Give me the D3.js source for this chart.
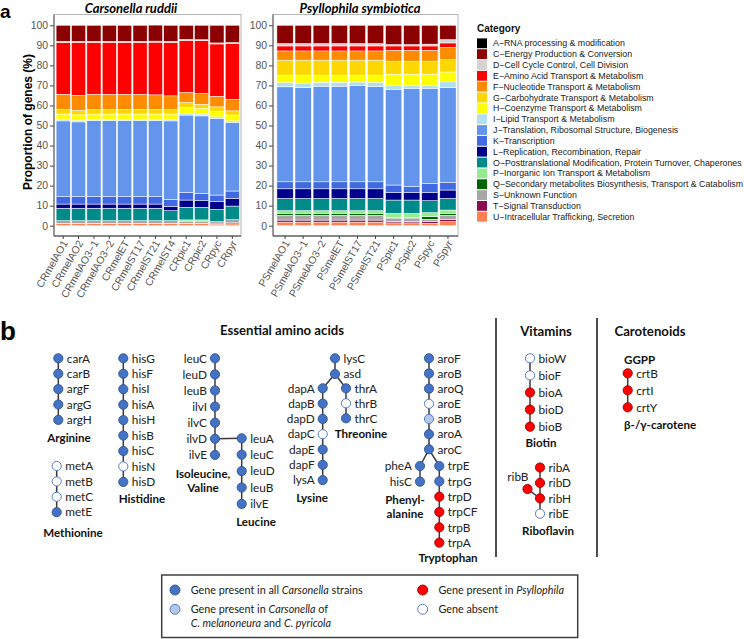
<!DOCTYPE html>
<html><head><meta charset="utf-8">
<script src="https://cdn.jsdelivr.net/npm/d3@7"></script>
<style>body{margin:0;background:#fff} svg{display:block}</style>
</head><body><svg id="c" width="744" height="639"></svg>
<script>
// ---------- DATA (panel a) ----------
const categoryKeys = ["A","C","D","E","F","G","H","I","J","K","L","O","P","Q","S","T","U"];
const categoryLabels = [
 "A−RNA processing & modification","C−Energy Production & Conversion","D−Cell Cycle Control, Cell Division",
 "E−Amino Acid Transport & Metabolism","F−Nucleotide Transport & Metabolism","G−Carbohydrate Transport & Metabolism",
 "H−Coenzyme Transport & Metabolism","I−Lipid Transport & Metabolism","J−Translation, Ribosomal Structure, Biogenesis",
 "K−Transcription","L−Replication, Recombination, Repair","O−Posttranslational Modification, Protein Turnover, Chaperones",
 "P−Inorganic Ion Transport & Metabolism","Q−Secondary metabolites Biosynthesis, Transport & Catabolism",
 "S−Unknown Function","T−Signal Transduction","U−Intracellular Trafficking, Secretion"];
const categoryColors = ["#000000","#8B0000","#D3D3D3","#FF0000","#FF8C00","#FFD700","#FFFF00","#B2DFEE",
 "#6495ED","#4169E1","#00008B","#008B8B","#90EE90","#006400","#A6A6A6","#8B0A50","#FF7F50"];
const crStrains = ["CRmelAO1","CRmelAO2","CRmelAO3−1","CRmelAO3−2","CRmelET","CRmelST17","CRmelST21","CRmelST4","CRpic1","CRpic2","CRpyc","CRpyr"];
const psStrains = ["PSmelAO1","PSmelAO3−1","PSmelAO3−2","PSmelET","PSmelST17","PSmelST21","PSpic1","PSpic2","PSpyc","PSpyr"];
// values per strain, in category order A,C,D,E,F,G,H,I,J,K,L,O,P,Q,S,T,U (%)
const crValues = [
 [0,8.0,0.5,25.9,7.6,2.3,2.7,0.7,37.8,3.7,2.1,6.2,0,0,1.3,0,1.2],
 [0,8.0,0.5,26.4,7.5,2.3,2.8,0.7,37.3,3.7,2.1,6.2,0,0,1.3,0,1.2],
 [0,8.0,0.5,25.9,7.6,2.3,2.7,0.6,37.9,3.7,2.1,6.2,0,0,1.3,0,1.2],
 [0,8.0,0.5,25.9,7.6,2.3,2.7,0.6,37.9,3.7,2.1,6.2,0,0,1.3,0,1.2],
 [0,8.0,0.5,25.9,7.6,2.3,2.7,0.6,37.9,3.7,2.1,6.2,0,0,1.3,0,1.2],
 [0,8.0,0.5,25.9,7.6,2.3,2.7,0.6,37.9,3.7,2.1,6.2,0,0,1.3,0,1.2],
 [0,8.0,0.5,26.3,7.3,2.3,2.7,0.6,37.9,3.7,2.1,6.2,0,0,1.3,0,1.2],
 [0,8.0,0.5,26.7,6.8,2.3,2.7,0.7,39.2,3.6,2.0,5.0,0,0,1.3,0,1.2],
 [0,7.0,0.5,26.0,5.0,2.5,3.0,0.8,38.7,3.7,3.6,6.3,0.6,0,1.1,0,1.2],
 [0,7.2,0.5,26.3,5.4,2.1,2.8,0.9,38.7,3.6,3.3,6.3,0.6,0,1.1,0,1.2],
 [0,8.8,0.5,26.1,5.3,2.2,2.8,0.8,38.2,3.3,3.8,6.2,0,0,0.7,0.5,0.8],
 [0,8.6,0.5,27.8,5.8,2.1,2.9,0.8,34.2,3.7,3.8,6.8,0,0,1.6,0.5,0.9]
];
const psValues = [
 [0,9.1,1.2,2.5,4.6,7.5,3.7,2.1,47.4,3.5,4.8,6.1,1.3,1.0,2.4,1.0,1.8],
 [0,9.1,1.2,2.5,4.6,7.5,3.9,2.2,47.1,3.5,4.8,6.1,1.3,1.0,2.4,1.0,1.8],
 [0,9.1,1.2,2.5,4.6,7.5,3.5,2.0,47.7,3.5,4.8,6.1,1.3,1.0,2.4,1.0,1.8],
 [0,9.1,1.2,2.5,4.6,7.5,3.5,2.0,47.7,3.5,4.8,6.1,1.3,1.0,2.4,1.0,1.8],
 [0,9.1,1.2,2.5,4.6,7.5,3.4,1.6,48.2,3.5,4.8,6.1,1.3,1.0,2.4,1.0,1.8],
 [0,9.1,1.2,2.5,4.6,7.5,3.6,2.0,47.6,3.5,4.8,6.1,1.3,1.0,2.4,1.0,1.8],
 [0,9.6,0.7,2.2,5.4,6.5,5.5,2.0,47.8,3.8,3.7,6.6,2.0,0.4,1.8,0.6,1.4],
 [0,9.6,0.7,2.2,5.4,6.5,5.5,1.5,49.1,3.0,3.7,6.6,2.0,0.4,1.8,0.6,1.4],
 [0,9.4,0.9,2.2,5.4,6.5,5.5,1.5,47.5,4.6,4.0,6.0,2.0,1.3,1.2,0.8,1.2],
 [0,7.1,1.7,2.3,6.0,6.2,4.9,2.8,47.3,3.9,4.2,5.8,1.6,1.0,2.0,1.2,2.0]
];
const yTicks = [0,10,20,30,40,50,60,70,80,90,100];

// ---------- DATA (panel b) ----------
// status: C = present in all Carsonella, M = Carsonella of C. melanoneura & C. pyricola, P = Psyllophila, N = absent
const argGenes = ["carA","carB","argF","argG","argH"];            const argStatus = ["C","C","C","C","C"];
const metGenes = ["metA","metB","metC","metE"];                   const metStatus = ["N","N","N","C"];
const hisGenes = ["hisG","hisF","hisI","hisA","hisH","hisB","hisC","hisN","hisD"]; const hisStatus = ["C","C","C","C","C","C","C","N","C"];
const ilvGenes = ["leuC","leuD","leuB","ilvI","ilvC","ilvD","ilvE"]; const ilvStatus = ["C","C","C","C","C","C","C"];
const leuGenes = ["leuA","leuC","leuD","leuB","ilvE"];            const leuStatus = ["C","C","C","C","C"];
const lysTrunkGenes = ["lysC","asd"];                             const lysTrunkStatus = ["C","C"];
const dapGenes = ["dapA","dapB","dapD","dapC","dapE","dapF","lysA"]; const dapStatus = ["C","C","C","N","C","C","C"];
const thrGenes = ["thrA","thrB","thrC"];                          const thrStatus = ["C","N","C"];
const aroGenes = ["aroF","aroB","aroQ","aroE","aroB","aroA","aroC"]; const aroStatus = ["C","C","C","N","M","C","C"];
const pheGenes = ["pheA","hisC"];                                 const pheStatus = ["C","C"];
const trpGenes = ["trpE","trpG","trpD","trpCF","trpB","trpA"];    const trpStatus = ["C","C","P","P","P","P"];
const bioGenes = ["bioW","bioF","bioA","bioD","bioB"];            const bioStatus = ["N","N","P","P","P"];
const ribGenes = ["ribA","ribD","ribH","ribE"];                   const ribStatus = ["P","P","P","N"];
const ribBranchGenes = ["ribB"];                                  const ribBranchStatus = ["P"];
const crtGenes = ["crtB","crtI","crtY"];                          const crtStatus = ["P","P","P"];

// ---------- RENDER ----------
const svg = d3.select("#c");
const FA = "'Liberation Sans', Arial, sans-serif";
const FB = "Lato, 'Open Sans', sans-serif";

svg.append("text").attr("x",0).attr("y",17.5).attr("font-family",FA).attr("font-weight","bold").attr("font-size",19).text("a");

const y = d3.scaleLinear().domain([0,100]).range([225.7, 25.3]);

function drawPanel(strains, values, o) {
  const rows = strains.map((s,i)=>{const r={strain:s}; categoryKeys.forEach((k,j)=>r[k]=values[i][j]); return r;});
  const series = d3.stack().keys(categoryKeys.slice().reverse())(rows);
  const x = d3.scaleBand().domain(strains).range(o.xRange).paddingInner(o.padIn).paddingOuter(o.padOut);
  const g = svg.append("g");
  g.append("rect").attr("x",o.frame[0]).attr("y",14.5).attr("width",o.frame[1]-o.frame[0]).attr("height",236-14.5)
    .attr("fill","none").attr("stroke","#b5b5b5").attr("stroke-width",1);
  series.forEach(s=>{
    const col = categoryColors[categoryKeys.indexOf(s.key)];
    g.append("g").selectAll("rect").data(s.filter(d=>d[1]-d[0]>0)).join("rect")
      .attr("x",d=>x(d.data.strain)).attr("width",x.bandwidth())
      .attr("y",d=>y(d[1])).attr("height",d=>y(d[0])-y(d[1]))
      .attr("fill",col).attr("stroke","#fff").attr("stroke-width",0.5);
  });
  const ya = g.append("g").attr("transform",`translate(${o.frame[0]},0)`)
    .call(d3.axisLeft(y).tickValues(yTicks).tickSize(4).tickPadding(2));
  ya.select(".domain").remove();
  ya.selectAll("line").attr("stroke","#444");
  ya.selectAll("text").attr("font-family",FA).attr("font-size",10.4).attr("fill","#555");
  const xa = g.append("g").attr("transform",`translate(0,236)`)
    .call(d3.axisBottom(x).tickSize(3).tickFormat(""));
  xa.select(".domain").remove();
  xa.selectAll("line").attr("stroke","#444");
  g.append("line").attr("x1",o.frame[0]).attr("x2",o.frame[0]).attr("y1",14.5).attr("y2",236).attr("stroke","#555");
  g.append("line").attr("x1",o.frame[0]).attr("x2",o.frame[1]).attr("y1",236).attr("y2",236).attr("stroke","#333");
  g.selectAll(".xl").data(strains).join("text")
    .attr("transform",d=>`translate(${x(d)+x.bandwidth()/2+5},${243}) rotate(-60)`)
    .attr("text-anchor","end").attr("font-family",FA).attr("font-size",10.4).attr("fill","#555").text(d=>d);
  g.append("text").attr("x",o.titleX).attr("y",13).attr("text-anchor","middle")
    .attr("font-family",FB).attr("font-weight","bold").attr("font-style","italic").attr("font-size",13).text(o.title);
}
drawPanel(crStrains, crValues, {xRange:[55.5,240], padIn:0.08, padOut:0.04, frame:[54,241], title:"Carsonella ruddii", titleX:131});
drawPanel(psStrains, psValues, {xRange:[276,457], padIn:0.1, padOut:0.05, frame:[273,458], title:"Psyllophila symbiotica", titleX:360});

svg.append("text").attr("transform","translate(32,122) rotate(-90)").attr("text-anchor","middle")
  .attr("font-family",FA).attr("font-weight","bold").attr("font-size",12).text("Proportion of genes (%)");

// legend a
const lg = svg.append("g");
lg.append("text").attr("x",477).attr("y",32).attr("font-family",FA).attr("font-weight","bold").attr("font-size",10).attr("fill","#111").text("Category");
categoryKeys.forEach((k,i)=>{
  const cy = 43.3 + i*10.84;
  lg.append("rect").attr("x",477).attr("y",cy-4.9).attr("width",10).attr("height",9.8).attr("fill",categoryColors[i]);
  lg.append("text").attr("x",493).attr("y",cy+3.1).attr("font-family",FA).attr("font-size",8.8).attr("fill","#1a1a1a").text(categoryLabels[i]);
});

// ---------- panel b ----------
svg.append("text").attr("x",0).attr("y",340).attr("font-family",FA).attr("font-weight","bold").attr("font-size",26).text("b");

const STYLE = {C:{fill:"#4472C4",stroke:"#2F5597"}, M:{fill:"#B4C7E7",stroke:"#4472C4"},
               P:{fill:"#FF0000",stroke:"#A00000"}, N:{fill:"#FFFFFF",stroke:"#4472C4"}};
function column(genes, status, x, y0, dy, side){
  return genes.map((g,i)=>({name:g, status:status[i], x:x, y:y0+i*dy, side:side}));
}
const cols = {
  arg: column(argGenes,argStatus,58.3,358.3,15.4,"r"),
  met: column(metGenes,metStatus,56.7,466,15.4,"r"),
  his: column(hisGenes,hisStatus,123.3,358.3,15.45,"r"),
  ilv: column(ilvGenes,ilvStatus,215,358.3,16.1,"l"),
  leu: column(leuGenes,leuStatus,241.7,438.3,16.4,"r"),
  lys: column(lysTrunkGenes,lysTrunkStatus,335,358.3,15.7,"r"),
  dap: column(dapGenes,dapStatus,322.7,388.3,15.3,"l"),
  thr: column(thrGenes,thrStatus,346,388.3,15.0,"r"),
  aro: column(aroGenes,aroStatus,429,358.3,15.17,"r"),
  phe: column(pheGenes,pheStatus,420,466,15.7,"l"),
  trp: column(trpGenes,trpStatus,439.3,466,15.33,"r"),
  bio: column(bioGenes,bioStatus,530,358.3,17.1,"r"),
  rib: column(ribGenes,ribStatus,540,467.5,15.4,"r"),
  ribB: column(ribBranchGenes,ribBranchStatus,527.5,489,0,"tl"),
  crt: column(crtGenes,crtStatus,627.7,373.3,17,"r")
};
const links = [];
Object.values(cols).forEach(c=>{ if(c.length>1) links.push([c[0],c[c.length-1]]); });
links.push([cols.ilv[5],cols.leu[0]],[cols.lys[1],cols.dap[0]],[cols.lys[1],cols.thr[0]],
           [cols.aro[6],cols.phe[0]],[cols.aro[6],cols.trp[0]],[cols.ribB[0],cols.rib[2]]);
const bg = svg.append("g");
bg.selectAll("line.l").data(links).join("line").attr("x1",d=>d[0].x).attr("y1",d=>d[0].y).attr("x2",d=>d[1].x).attr("y2",d=>d[1].y)
  .attr("stroke","#3a3a3a").attr("stroke-width",1.5);
const nodes = Object.values(cols).flat();
bg.selectAll("circle.n").data(nodes).join("circle").attr("cx",d=>d.x).attr("cy",d=>d.y).attr("r",4.6)
  .attr("fill",d=>STYLE[d.status].fill).attr("stroke",d=>STYLE[d.status].stroke).attr("stroke-width",0.9);
bg.selectAll("text.n").data(nodes).join("text")
  .attr("x",d=>d.side==="r"?d.x+8.5:(d.side==="l"?d.x-8:d.x+1))
  .attr("y",d=>d.side==="tl"?d.y-8:d.y+4.2)
  .attr("text-anchor",d=>d.side==="r"?"start":"end")
  .attr("font-family",FB).attr("font-size",11.8).attr("fill","#222").text(d=>d.name);

function btext(t,x,yy,anchor,size){
  svg.append("text").attr("x",x).attr("y",yy).attr("text-anchor",anchor||"middle").attr("font-family",FB)
    .attr("font-weight","bold").attr("font-size",size||11.6).attr("fill","#111").text(t);
}
btext("Essential amino acids",282,335,"middle",13.2);
btext("Vitamins",546,336,"middle",13.2);
btext("Carotenoids",650,336,"middle",13.2);
btext("Arginine",69,442); btext("Methionine",73,537); btext("Histidine",142,503);
btext("Isoleucine,",203,478); btext("Valine",203,492); btext("Leucine",256,526);
btext("Lysine",312,502); btext("Threonine",361,438);
btext("Phenyl-",405,504); btext("alanine",405,518); btext("Tryptophan",448,562);
btext("Biotin",541,447); btext("Riboflavin",548,535);
btext("GGPP",624,363.5,"start"); btext("β-/γ-carotene",624,429,"start");

[496,597].forEach(xx=>svg.append("line").attr("x1",xx).attr("x2",xx).attr("y1",318).attr("y2",557).attr("stroke","#222").attr("stroke-width",1.6));

// legend b
const lb = svg.append("g");
lb.append("rect").attr("x",161.7).attr("y",575).attr("width",416).attr("height",62.5).attr("fill","none").attr("stroke","#404040").attr("stroke-width",1.5);
const legItems = [
  {s:"C", cx:175, cy:590, parts:[[["Gene present in all ",0],["Carsonella",1],[" strains",0]]]},
  {s:"M", cx:175, cy:609.3, parts:[[["Gene present in ",0],["Carsonella",1],[" of",0]],[["C. melanoneura",1],[" and ",0],["C. pyricola",1]]]},
  {s:"P", cx:422.7, cy:590, parts:[[["Gene present in ",0],["Psyllophila",1]]]},
  {s:"N", cx:422.7, cy:609.3, parts:[[["Gene absent",0]]]}
];
legItems.forEach(it=>{
  lb.append("circle").attr("cx",it.cx).attr("cy",it.cy).attr("r",5).attr("fill",STYLE[it.s].fill).attr("stroke",STYLE[it.s].stroke).attr("stroke-width",0.9);
  it.parts.forEach((line,li)=>{
    const t = lb.append("text").attr("x",it.cx+15.7).attr("y",it.cy+3.8+li*14).attr("font-family",FB).attr("font-size",10.8).attr("fill","#222");
    line.forEach(p=>t.append("tspan").attr("font-style",p[1]?"italic":"normal").text(p[0]));
  });
});
</script></body></html>
